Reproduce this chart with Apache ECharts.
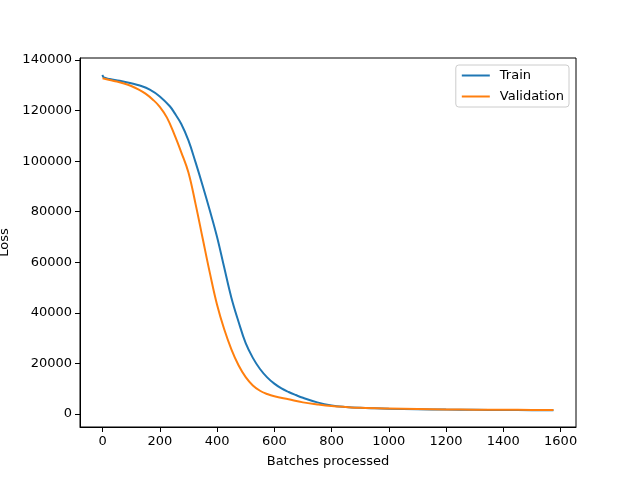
<!DOCTYPE html>
<html>
<head>
<meta charset="utf-8">
<script src="https://cdn.jsdelivr.net/npm/echarts@6/dist/echarts.min.js"></script>
<style>
  html, body { margin: 0; padding: 0; background: #fff; }
  #chart { width: 640px; height: 480px; }
</style>
</head>
<body>
<div id="chart"></div>
<script>
// loss curves
var trainBatches = [0, 4, 25, 60, 100, 130, 165, 200, 235, 250, 275, 300, 325, 350, 375, 400, 425, 450, 475, 500, 525, 550, 575, 600, 625, 650, 675, 700, 750, 800, 850, 900, 950, 1000, 1100, 1200, 1300, 1400, 1500, 1575];
var trainLoss = [134150, 133100, 132500, 131800, 130800, 129900, 128300, 125600, 121700, 119300, 114700, 108200, 99500, 90200, 80400, 70000, 57900, 46000, 36500, 28000, 22200, 17800, 14500, 12000, 10100, 8700, 7500, 6400, 4600, 3400, 2800, 2450, 2250, 2100, 1900, 1750, 1650, 1580, 1530, 1500];

var valBatches = [0, 25, 50, 75, 100, 125, 150, 175, 200, 225, 250, 275, 300, 325, 350, 375, 400, 425, 450, 475, 500, 525, 550, 575, 600, 650, 700, 750, 800, 850, 900, 1000, 1100, 1200, 1300, 1400, 1500, 1575];
var valLoss = [132800, 132100, 131500, 130700, 129700, 128400, 126700, 124400, 121500, 117200, 110800, 103500, 95500, 83000, 69300, 55700, 43200, 33500, 25600, 19300, 14600, 11300, 9200, 7900, 7000, 5800, 4600, 3800, 3150, 2750, 2450, 2150, 1950, 1800, 1700, 1650, 1620, 1600];

var xTicks = [0, 200, 400, 600, 800, 1000, 1200, 1400, 1600];
var yTicks = [0, 20000, 40000, 60000, 80000, 100000, 120000, 140000];

var chart = echarts.init(document.getElementById('chart'));
var font = 'DejaVu Sans';

function pairs(xs, ys) {
  return xs.map(function (x, i) { return [x, ys[i]]; });
}
function plain(v) { return String(v); }

chart.setOption({
  animation: false,
  textStyle: { fontFamily: font },
  grid: {
    left: 80, right: 64, top: 58, bottom: 53,
    outerBoundsMode: 'none',
    containLabel: false,
    show: true, borderColor: '#000', borderWidth: 1
  },
  legend: {
    orient: 'vertical',
    right: 71, top: 65,
    padding: [4, 5, 4, 5],
    itemGap: 8,
    itemWidth: 28,
    itemHeight: 14,
    borderColor: '#ccc',
    borderWidth: 1,
    borderRadius: 3,
    itemStyle: { opacity: 0 },
    textStyle: { fontFamily: font, fontSize: 13, color: '#000', padding: [0, 0, 0, 5] },
    data: ['Train', 'Validation']
  },
  xAxis: {
    type: 'value',
    min: -78.75, max: 1653.75,
    name: 'Batches processed',
    nameLocation: 'middle',
    nameGap: 28,
    nameTextStyle: { fontFamily: font, fontSize: 13, color: '#000' },
    axisLine: { onZero: false, lineStyle: { color: '#000' } },
    axisTick: { customValues: xTicks, length: 5, lineStyle: { color: '#000' } },
    axisLabel: { customValues: xTicks, formatter: plain, margin: 8, fontFamily: font, fontSize: 13, color: '#000' },
    splitLine: { show: false }
  },
  yAxis: {
    type: 'value',
    min: -5140, max: 140790,
    name: 'Loss',
    nameLocation: 'middle',
    nameGap: 66,
    nameTextStyle: { fontFamily: font, fontSize: 13, color: '#000' },
    axisLine: { show: true, onZero: false, lineStyle: { color: '#000' } },
    axisTick: { show: true, customValues: yTicks, length: 5, lineStyle: { color: '#000' } },
    axisLabel: { customValues: yTicks, formatter: plain, margin: 8, fontFamily: font, fontSize: 13, color: '#000' },
    splitLine: { show: false }
  },
  series: [
    {
      name: 'Train',
      type: 'line',
      data: pairs(trainBatches, trainLoss),
      symbol: 'none',
      smooth: 0.4,
      color: '#1f77b4',
      lineStyle: { color: '#1f77b4', width: 2 }
    },
    {
      name: 'Validation',
      type: 'line',
      data: pairs(valBatches, valLoss),
      symbol: 'none',
      smooth: 0.4,
      color: '#ff7f0e',
      lineStyle: { color: '#ff7f0e', width: 2 }
    }
  ]
});
</script>
</body>
</html>
